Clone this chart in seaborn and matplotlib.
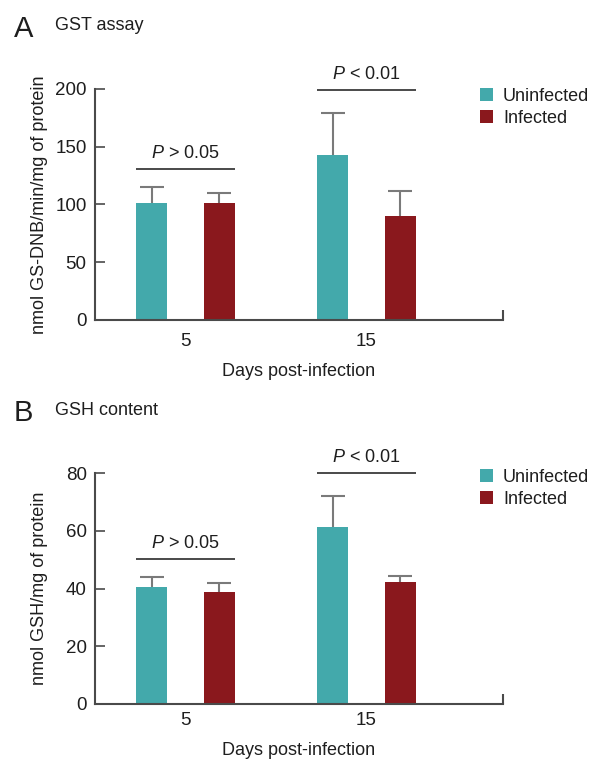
import numpy as np
import pandas as pd
import matplotlib
matplotlib.use("Agg")
import matplotlib.pyplot as plt
import seaborn as sns

# ---- data ----
days = ["5", "15"]
groups = ["Uninfected", "Infected"]
gst_uninf = [101, 143]
gst_uninf_err = [14, 36]
gst_inf = [101, 90]
gst_inf_err = [9, 22]
gsh_uninf = [40.5, 61.2]
gsh_uninf_err = [3.5, 11.0]
gsh_inf = [38.7, 42.2]
gsh_inf_err = [3.1, 2.0]
gst_sig = [("P > 0.05", 131), ("P < 0.01", 199.5)]
gsh_sig = [("P > 0.05", 50.2), ("P < 0.01", 79.9)]

sns.set_theme(style="white")
plt.rcParams["font.family"] = ["Liberation Sans", "DejaVu Sans"]
plt.rcParams["mathtext.fontset"] = "custom"
plt.rcParams["mathtext.it"] = "Liberation Sans:italic"
plt.rcParams["mathtext.rm"] = "Liberation Sans"

TEAL = "#43a9ab"
RED = "#8a181d"
AX = "#4a4a4a"
ERR = "#7a7a7a"
TXT = "#1e1e1e"
FS = 13
TFS = 13.5

W, H = 604, 763
fig = plt.figure(figsize=(W / 100, H / 100), dpi=100)


def px_axes(x0, y0, x1, y1):
    return fig.add_axes([x0 / W, 1 - y1 / H, (x1 - x0) / W, (y1 - y0) / H])


def panel(ax, uninf, uninf_err, inf, inf_err, sig, ymax, step, ylabel,
          pad, xlab_y, leg_top):
    df = pd.DataFrame({
        "day": days * 2,
        "group": [groups[0]] * 2 + [groups[1]] * 2,
        "value": list(uninf) + list(inf),
    })
    sns.barplot(data=df, x="day", y="value", hue="group", order=days,
                hue_order=groups, palette=[TEAL, RED], errorbar=None,
                width=0.75, gap=0.544, ax=ax, saturation=1, linewidth=0)
    errs = [uninf_err, inf_err]
    vals = [uninf, inf]
    for cont, e, v in zip(ax.containers, errs, vals):
        xs = [p.get_x() + p.get_width() / 2 for p in cont]
        line, caps, bars = ax.errorbar(xs, v, yerr=[np.zeros(len(e)), e],
                                       fmt="none", ecolor=ERR, elinewidth=1.5,
                                       capsize=8.5, capthick=1.5, zorder=1)
        caps[0].set_visible(False)
    # significance lines
    for i, (txt, yv) in enumerate(sig):
        left = ax.containers[0][i]
        right = ax.containers[1][i]
        x0 = left.get_x()
        x1 = right.get_x() + right.get_width()
        ax.plot([x0, x1], [yv, yv], color=AX, lw=1.4, solid_capstyle="butt",
                clip_on=False)
        label = txt.replace("P", "$P$", 1)
        ax.annotate(label, xy=((x0 + x1) / 2, yv), xytext=(0, 5),
                    textcoords="offset points", ha="center", va="bottom",
                    fontsize=FS, color=TXT)
    ax.set_xlim(-0.5, 1.754)
    ax.set_ylim(0, ymax)
    ax.set_yticks(np.arange(0, ymax + 1, step))
    ax.tick_params(axis="y", direction="in", length=7, width=1.2,
                   color=AX, labelsize=TFS, labelcolor=TXT, pad=6,
                   left=True)
    ax.tick_params(axis="x", length=0, labelsize=TFS, labelcolor=TXT,
                   pad=pad)
    ax.set_xticks([1.754], minor=True)
    ax.tick_params(axis="x", which="minor", direction="in", length=7,
                   width=1.5, color=AX, bottom=True)
    for s in ["top", "right"]:
        ax.spines[s].set_visible(False)
    for s in ["left", "bottom"]:
        ax.spines[s].set_color(AX)
        ax.spines[s].set_linewidth(1.5)
    ax.set_ylabel(ylabel, fontsize=FS, color=TXT)
    ax.yaxis.set_label_coords(-0.115, 0.5)
    ax.set_xlabel("Days post-infection", fontsize=FS, color=TXT)
    ax.xaxis.set_label_coords(0.5, xlab_y)
    handles, labels = ax.get_legend_handles_labels()
    leg = ax.legend(handles, labels, loc="upper left",
                    bbox_to_anchor=(480 / W, 1 - leg_top / H),
                    bbox_transform=fig.transFigure, frameon=False,
                    fontsize=FS, handlelength=0.72, handleheight=0.72,
                    handletextpad=0.55, labelspacing=0.25, borderpad=0,
                    borderaxespad=0)
    for t in leg.get_texts():
        t.set_color(TXT)


ax1 = px_axes(95, 89, 503, 320)
panel(ax1, gst_uninf, gst_uninf_err, gst_inf, gst_inf_err, gst_sig,
      200, 50, "nmol GS-DNB/min/mg of protein", 9.5, -0.185, 88)

ax2 = px_axes(95, 473, 503, 704)
panel(ax2, gsh_uninf, gsh_uninf_err, gsh_inf, gsh_inf_err, gsh_sig,
      80, 20, "nmol GSH/mg of protein", 6, -0.165, 469)

fig.text(14 / W, 1 - 37 / H, "A", fontsize=21, va="baseline", ha="left",
         color=TXT)
fig.text(55 / W, 1 - 29.5 / H, "GST assay", fontsize=FS, va="baseline",
         ha="left", color=TXT)
fig.text(14 / W, 1 - 421.5 / H, "B", fontsize=21, va="baseline", ha="left",
         color=TXT)
fig.text(55 / W, 1 - 415 / H, "GSH content", fontsize=FS, va="baseline",
         ha="left", color=TXT)

fig.savefig("out.png", dpi=100)
